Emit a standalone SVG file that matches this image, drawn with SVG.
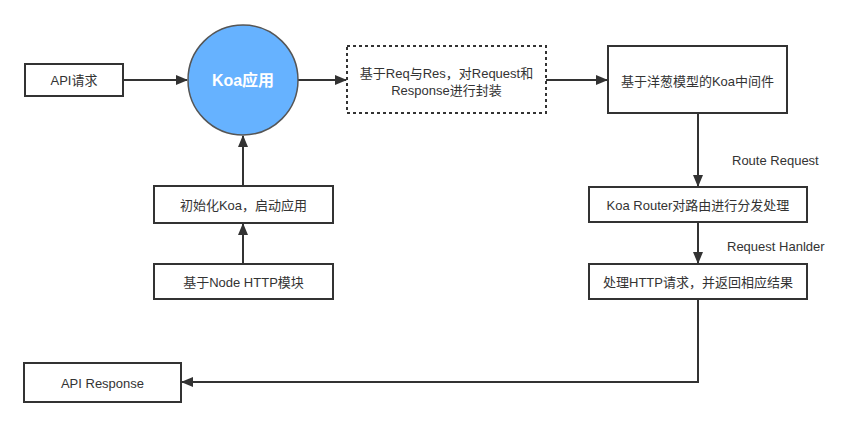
<svg xmlns="http://www.w3.org/2000/svg" width="861" height="428" viewBox="0 0 861 428">
<style>
.box{fill:#fff;stroke:#333;stroke-width:2}
.dash{fill:#fff;stroke:#333;stroke-width:2;stroke-dasharray:3 3}
.t{font-family:"Liberation Sans","Noto Sans CJK SC",sans-serif;font-size:13px;fill:#333;text-anchor:middle;dominant-baseline:central}
.lbl{font-family:"Liberation Sans","Noto Sans CJK SC",sans-serif;font-size:13px;fill:#333;dominant-baseline:central}
.c{fill:none;stroke:#333;stroke-width:2}
</style>
<defs>
<marker id="ah" markerWidth="12" markerHeight="10" refX="11" refY="5" orient="auto" markerUnits="userSpaceOnUse">
<path d="M0,0 L12,5 L0,10 Z" fill="#333"/>
</marker>
</defs>
<rect width="861" height="428" fill="#fff"/>
<g id="connectors">
<line class="c" x1="123" y1="80" x2="187" y2="80" marker-end="url(#ah)"/>
<line class="c" x1="298" y1="80" x2="346" y2="80" marker-end="url(#ah)"/>
<line class="c" x1="546" y1="80" x2="607" y2="80" marker-end="url(#ah)"/>
<line class="c" x1="243" y1="186" x2="243" y2="136" marker-end="url(#ah)"/>
<line class="c" x1="243" y1="264" x2="243" y2="224" marker-end="url(#ah)"/>
<line class="c" x1="698" y1="113" x2="698" y2="186" marker-end="url(#ah)"/>
<line class="c" x1="698" y1="222" x2="698" y2="263" marker-end="url(#ah)"/>
<polyline class="c" points="698,299 698,382 182,382" marker-end="url(#ah)"/>
<text class="lbl" x="732" y="160">Route Request</text>
<text class="lbl" x="727" y="246">Request Hanlder</text>
</g>
<g id="api-request">
<rect class="box" x="25" y="64" width="98" height="32"/>
<text class="t" x="74" y="80">API请求</text>
</g>
<g id="koa-app">
<circle cx="243" cy="80" r="55" fill="#66B2FF" stroke="#555" stroke-width="1.5"/>
<text class="t" x="243" y="80" style="fill:#fff;font-size:16px;font-weight:bold">Koa应用</text>
</g>
<g id="req-res">
<rect class="dash" x="347" y="46" width="199" height="67"/>
<text class="t" x="446.5" y="73">基于Req与Res，对Request和</text>
<text class="t" x="446.5" y="90">Response进行封装</text>
</g>
<g id="middleware">
<rect class="box" x="608" y="46" width="179" height="67"/>
<text class="t" x="697.5" y="81">基于洋葱模型的Koa中间件</text>
</g>
<g id="init-koa">
<rect class="box" x="154" y="186" width="179" height="37"/>
<text class="t" x="243.5" y="205">初始化Koa，启动应用</text>
</g>
<g id="node-http">
<rect class="box" x="154" y="264" width="179" height="35"/>
<text class="t" x="243.5" y="282">基于Node HTTP模块</text>
</g>
<g id="koa-router">
<rect class="box" x="589" y="187" width="218" height="35"/>
<text class="t" x="698" y="205">Koa Router对路由进行分发处理</text>
</g>
<g id="handle-http">
<rect class="box" x="589" y="264" width="218" height="35"/>
<text class="t" x="698" y="282">处理HTTP请求，并返回相应结果</text>
</g>
<g id="api-response">
<rect class="box" x="24" y="363" width="157" height="39"/>
<text class="t" x="102.5" y="383">API Response</text>
</g>
</svg>
